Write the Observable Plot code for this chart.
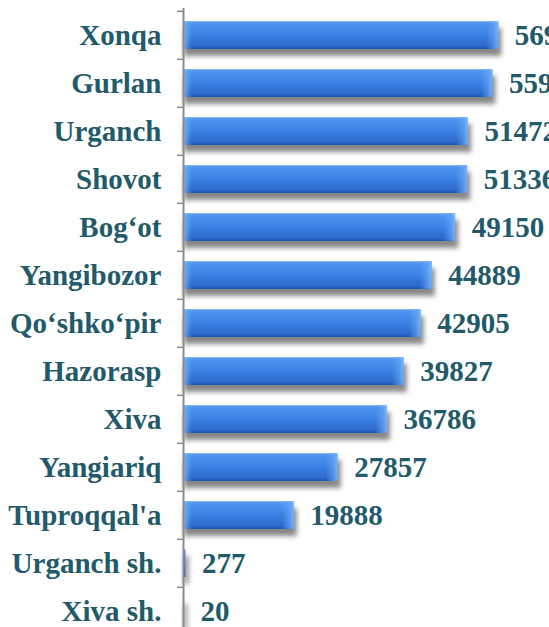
<!DOCTYPE html>
<html><head><meta charset="utf-8">
<script src="https://cdn.jsdelivr.net/npm/d3@7"></script>
<script src="https://cdn.jsdelivr.net/npm/@observablehq/plot@0.6"></script>
<style>
html,body{margin:0;padding:0;background:#fff;overflow:hidden;}
#chart svg{overflow:hidden;}
</style>
</head><body><div id="chart"></div>
<script>
const districts = ["Xonqa","Gurlan","Urganch","Shovot","Bog‘ot","Yangibozor","Qo‘shko‘pir","Hazorasp","Xiva","Yangiariq","Tuproqqal'a","Urganch sh.","Xiva sh."];
const values = [56980, 55910, 51472, 51336, 49150, 44889, 42905, 39827, 36786, 27857, 19888, 277, 20];

const W = 549, H = 640, mt = 8, mb = 3, ml = 184, mr = 34;
const step = (H - mt - mb) / districts.length;
const data = districts.map((d, i) => ({district: d, value: values[i]}));
const bigBars = data.filter(d => d.value > 5000);
const textColor = "#215a69";
const font = "'Liberation Serif', 'Times New Roman', serif";

const plot = Plot.plot({
  width: W, height: H,
  marginTop: mt, marginBottom: mb, marginLeft: ml, marginRight: mr,
  style: {fontFamily: font, background: "#fff"},
  x: {domain: [0, 60000], axis: null},
  y: {domain: districts, padding: 0, axis: null},
  marks: [
    Plot.barX(data, {x: "value", y: "district", fill: "#555", fillOpacity: 0.7, insetTop: 17, insetBottom: 3, insetRight: -3, className: "bar-shadow"}),
    Plot.barX(data, {x: "value", y: "district", fill: "url(#barGrad)", insetTop: 10, insetBottom: 10}),
    Plot.barX(bigBars, {x1: "value", x2: "value", y: "district", fill: "url(#endGrad)", insetLeft: -12, insetTop: 10, insetBottom: 10}),
    Plot.barX(bigBars, {x1: 0, x2: 0, y: "district", fill: "url(#startGrad)", insetRight: -8, insetTop: 10, insetBottom: 10}),
    Plot.axisY({tickSize: 0, tickPadding: 23, fontSize: 29, fontWeight: "bold", fill: textColor, label: null}),
    Plot.axisY({tickSize: 7, tickFormat: () => "", dy: -step / 2, stroke: "#8a8a8a", strokeWidth: 1.5, label: null}),
    Plot.ruleX([0], {stroke: "#8a8a8a", strokeWidth: 2, dx: -1}),
    Plot.text(data, {x: "value", y: "district", text: d => String(d.value), dx: 16, textAnchor: "start", fontSize: 29, fontWeight: "bold", fill: textColor})
  ]
});

const svg = d3.select(plot);
const defs = svg.insert("defs", ":first-child");
const g = defs.append("linearGradient").attr("id", "barGrad").attr("x1", 0).attr("y1", 0).attr("x2", 0).attr("y2", 1);
[[0, "#9cc4f6"], [0.06, "#4f95ef"], [0.45, "#3c84e6"], [0.9, "#2b68c9"], [1, "#2156ab"]].forEach(([o, c]) => g.append("stop").attr("offset", o).attr("stop-color", c));
const e = defs.append("linearGradient").attr("id", "endGrad").attr("x1", 0).attr("y1", 0).attr("x2", 1).attr("y2", 0);
[[0, "#6aa8f4", 0], [0.6, "#6aa8f4", 0.55], [1, "#8cbcf6", 0.85]].forEach(([o, c, op]) => e.append("stop").attr("offset", o).attr("stop-color", c).attr("stop-opacity", op));
const s = defs.append("linearGradient").attr("id", "startGrad").attr("x1", 0).attr("y1", 0).attr("x2", 1).attr("y2", 0);
[[0, "#8cbcf6", 0.8], [1, "#6aa8f4", 0]].forEach(([o, c, op]) => s.append("stop").attr("offset", o).attr("stop-color", c).attr("stop-opacity", op));
const f = defs.append("filter").attr("id", "shadowBlur").attr("x", "-10%").attr("y", "-60%").attr("width", "120%").attr("height", "220%");
f.append("feGaussianBlur").attr("stdDeviation", 2.5);
svg.selectAll(".bar-shadow").attr("filter", "url(#shadowBlur)");

document.getElementById("chart").appendChild(plot);
</script>
</body></html>
